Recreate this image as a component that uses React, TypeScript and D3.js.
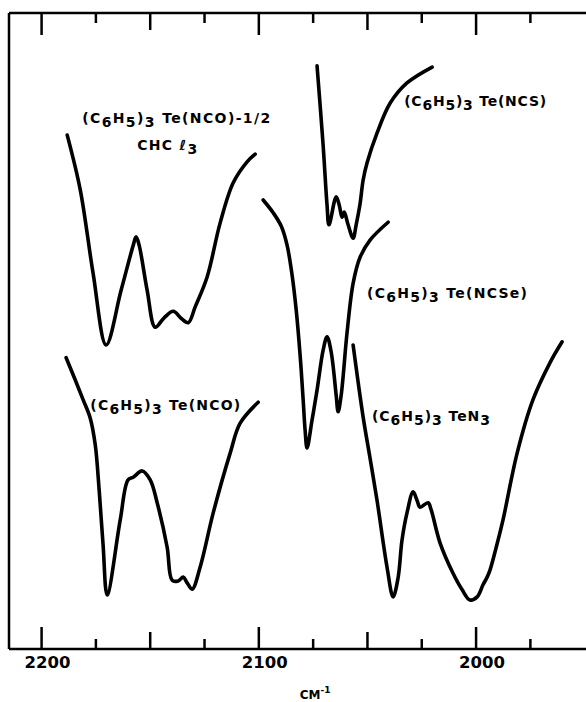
import * as d3 from 'd3';
import * as React from 'react';

const W = 586;
const H = 702;

// wavenumber (cm-1) and relative transmittance (0-100)
const ncoChcl3Wn = [2188.2, 2182.2, 2176.3, 2170.3, 2163.4, 2157.8, 2156.5, 2155.1, 2151.4, 2147.7, 2143.8, 2139.4, 2135.8, 2132.5, 2129.3, 2123.8, 2117.8, 2111.8, 2105.4, 2101.7];
const ncoChcl3T = [80.8, 72.2, 59.1, 47.8, 56.4, 63.5, 64.8, 63.5, 56.4, 50.6, 52.0, 53.1, 52.0, 51.3, 53.8, 58.5, 67.0, 73.3, 76.6, 77.8];

const ncsWn = [2073.2, 2070.4, 2068.6, 2067.7, 2064.4, 2063.0, 2061.7, 2060.7, 2058.9, 2056.6, 2055.2, 2053.4, 2052.0, 2050.2, 2045.6, 2039.6, 2031.8, 2020.2];
const ncsT = [91.7, 79.2, 69.8, 66.7, 71.1, 69.8, 67.9, 68.7, 66.7, 64.6, 66.7, 70.0, 73.7, 76.4, 81.1, 85.8, 89.0, 91.5];

const ncseWn = [2098.0, 2093.4, 2089.7, 2087.0, 2084.7, 2082.8, 2081.0, 2079.6, 2078.7, 2077.8, 2075.5, 2073.2, 2070.4, 2068.6, 2066.7, 2064.4, 2063.5, 2062.1, 2059.4, 2056.6, 2053.4, 2048.8, 2040.5];
const ncseT = [70.6, 68.6, 66.5, 63.5, 58.8, 53.3, 46.2, 39.2, 34.4, 31.6, 36.0, 40.7, 47.0, 49.1, 46.7, 39.9, 37.3, 39.9, 49.7, 57.5, 61.6, 64.3, 67.1];

const n3Wn = [2056.6, 2052.0, 2048.8, 2045.6, 2041.0, 2038.2, 2035.9, 2034.1, 2031.8, 2029.0, 2027.2, 2025.8, 2022.1, 2020.7, 2016.6, 2010.6, 2006.4, 2002.8, 1999.5, 1996.8, 1994.9, 1993.6, 1990.8, 1987.6, 1981.1, 1973.8, 1966.0, 1960.4];
const n3T = [47.8, 36.5, 30.0, 23.4, 12.9, 8.2, 11.2, 17.1, 21.4, 24.7, 23.4, 22.3, 23.0, 21.9, 16.7, 11.9, 9.3, 7.7, 8.2, 10.1, 11.3, 12.4, 15.9, 20.3, 30.8, 39.2, 45.0, 48.3];

const ncoWn = [2188.7, 2184.5, 2180.9, 2177.6, 2175.3, 2173.5, 2171.7, 2169.8, 2163.8, 2160.2, 2157.8, 2153.7, 2150.0, 2146.8, 2142.2, 2139.9, 2137.1, 2134.8, 2133.0, 2130.7, 2127.0, 2121.0, 2113.2, 2108.6, 2100.3];
const ncoT = [45.8, 42.3, 39.2, 36.3, 32.1, 25.0, 16.4, 8.5, 20.3, 26.6, 27.0, 28.0, 26.6, 23.0, 16.0, 10.8, 10.7, 11.3, 10.4, 9.4, 12.9, 21.4, 30.8, 35.5, 38.8];

// '_' marks the next character as a subscript
const seriesNames = [
    '(C_6H_5)_3\u00a0Te(NCO)-1/2',
    '(C_6H_5)_3\u00a0Te(NCS)',
    '(C_6H_5)_3\u00a0Te(NCSe)',
    '(C_6H_5)_3\u00a0TeN_3',
    '(C_6H_5)_3\u00a0Te(NCO)',
];
const solvateLine = 'CHC\u00a0\u2113_3';

const xTickValues = d3.range(2200, 1974, -25);
const xTickLabels = ['2200', '2100', '2000'];
const xTitle = 'CM';

const xScale = d3.scaleLinear().domain([2215, 1949.4]).range([9, 586]);
const yScale = d3.scaleLinear().domain([0, 100]).range([649, 13]);

const font = '"DejaVu Sans", sans-serif';

function zip(wn: number[], t: number[]): [number, number][] {
    return wn.map((w, i) => [w, t[i]]);
}

function Formula(props: {x: number; y: number; text: string; size: number; length: number}) {
    const parts: {t: string; sub: boolean}[] = [];
    let buf = '';
    for (let i = 0; i < props.text.length; i++) {
        if (props.text[i] === '_') {
            if (buf) parts.push({t: buf, sub: false});
            buf = '';
            parts.push({t: props.text[i + 1], sub: true});
            i++;
        } else {
            buf += props.text[i];
        }
    }
    if (buf) parts.push({t: buf, sub: false});
    let shift = 0;
    return (
        <text x={props.x} y={props.y} fontSize={props.size} fontFamily={font} fontWeight='bold'
            textLength={props.length} lengthAdjust='spacing'>
            {parts.map((p, i) => {
                const target = p.sub ? 4 : 0;
                const dy = target - shift;
                shift = target;
                return <tspan key={i} dy={dy}>{p.t}</tspan>;
            })}
        </text>
    );
}

export default function App() {
    const line = d3.line<[number, number]>()
        .x((d) => xScale(d[0]))
        .y((d) => yScale(d[1]))
        .curve(d3.curveCatmullRom.alpha(0.5));

    const series = [
        zip(ncoChcl3Wn, ncoChcl3T),
        zip(ncsWn, ncsT),
        zip(ncseWn, ncseT),
        zip(n3Wn, n3T),
        zip(ncoWn, ncoT),
    ];

    // label anchors in data units (wavenumber, transmittance) and fitted widths
    const labels = [
        {wn: 2181.3, t: 82.7, len: 188},
        {wn: 2033.1, t: 85.4, len: 142},
        {wn: 2050.2, t: 55.2, len: 160},
        {wn: 2047.9, t: 35.8, len: 118},
        {wn: 2177.6, t: 37.6, len: 150},
    ];

    const x0 = xScale.range()[0];
    const x1 = xScale.range()[1];
    const yTop = yScale.range()[1];
    const yBot = yScale.range()[0];

    const tickLen = (v: number) => (v % 100 === 0 ? 22 : v % 50 === 0 ? 17 : 10);

    return (
        <svg width={W} height={H} style={{position: 'absolute', left: 0, top: 0, background: '#fff'}}>
            <rect width={W} height={H} fill='#fff' />
            <g stroke='#000' strokeWidth={2.5} fill='none'>
                <line x1={x0} x2={x1} y1={yTop} y2={yTop} />
                <line x1={x0} x2={x1} y1={yBot} y2={yBot} />
                <line x1={x0} x2={x0} y1={yTop} y2={yBot} />
                {xTickValues.map((v) => (
                    <g key={v}>
                        <line x1={xScale(v)} x2={xScale(v)} y1={yTop} y2={yTop + tickLen(v)} />
                        <line x1={xScale(v)} x2={xScale(v)} y1={yBot} y2={yBot - tickLen(v)} />
                    </g>
                ))}
            </g>
            {xTickLabels.map((l) => (
                <text key={l} x={xScale(+l) + 6} y={668} textAnchor='middle' fontFamily={font}
                    fontWeight='bold' fontSize={16.5}>{l}</text>
            ))}
            <text x={xScale(2075) + 2} y={699} textAnchor='middle' fontFamily={font} fontWeight='bold' fontSize={12}>
                {xTitle}<tspan dy={-6} fontSize={9}>-1</tspan>
            </text>
            <g fill='none' stroke='#000' strokeWidth={3.6} strokeLinejoin='round' strokeLinecap='round'>
                {series.map((s, i) => <path key={i} d={line(s) || ''} />)}
            </g>
            {labels.map((l, i) => (
                <Formula key={i} x={xScale(l.wn)} y={yScale(l.t)} text={seriesNames[i]} size={14} length={l.len} />
            ))}
            <Formula x={xScale(2156)} y={yScale(78.5)} text={solvateLine} size={14} length={60} />
        </svg>
    );
}
